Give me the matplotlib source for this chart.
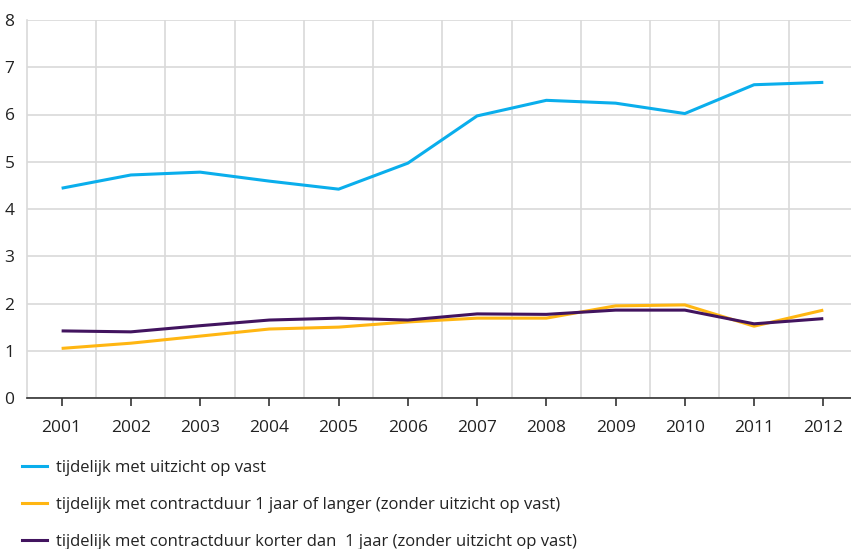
import matplotlib
matplotlib.use("Agg")
import matplotlib.pyplot as plt
from matplotlib.lines import Line2D

plt.rcParams['font.family'] = ['Open Sans', 'DejaVu Sans']

years = [2001, 2002, 2003, 2004, 2005, 2006, 2007, 2008, 2009, 2010, 2011, 2012]
uitzicht = [4.44, 4.72, 4.78, 4.59, 4.42, 4.97, 5.97, 6.30, 6.24, 6.02, 6.63, 6.68]
langer = [1.05, 1.16, 1.31, 1.46, 1.50, 1.61, 1.69, 1.69, 1.95, 1.97, 1.52, 1.86]
korter = [1.42, 1.40, 1.53, 1.65, 1.69, 1.65, 1.78, 1.77, 1.86, 1.86, 1.57, 1.68]
labels = ["tijdelijk met uitzicht op vast",
          "tijdelijk met contractduur 1 jaar of langer (zonder uitzicht op vast)",
          "tijdelijk met contractduur korter dan  1 jaar (zonder uitzicht op vast)"]
colors = ["#0AAEEC", "#FFB612", "#42145F"]

fig = plt.figure(figsize=(8.51, 5.49), dpi=100)
ax = fig.add_axes([27/851, 1-398/549, 1-27/851, (398-20)/549])

for vals, c, lab in zip([uitzicht, langer, korter], colors, labels):
    ax.plot(years, vals, color=c, lw=2.2, label=lab, solid_capstyle='butt', zorder=3)

ax.set_xlim(2000.5, 2012.4)
ax.set_ylim(0, 8)
ax.set_yticks(range(0, 9))
ax.set_xticks(years)
ax.set_xticks([y + 0.5 for y in years[:-1]], minor=True)
ax.grid(True, which='major', axis='y', color='#d9d9d9', lw=1.2)
ax.grid(True, which='minor', axis='x', color='#d9d9d9', lw=1.2)
ax.set_axisbelow(True)
for s in ['top', 'right']:
    ax.spines[s].set_visible(False)
ax.spines['left'].set_color('#d9d9d9')
ax.spines['left'].set_linewidth(1.2)
ax.spines['bottom'].set_color('#333333')
ax.spines['bottom'].set_linewidth(1.2)
ax.tick_params(axis='x', which='major', length=6, width=1.2, color='#333333', pad=10, labelsize=12.5, labelcolor='#222222')
ax.tick_params(axis='x', which='minor', length=0)
ax.tick_params(axis='y', length=0, pad=9, labelsize=12.5, labelcolor='#222222')

handles = [Line2D([], [], color=c, lw=2.2) for c in colors]
fig.legend(handles, labels, loc='upper left', bbox_to_anchor=(22/851, 1-460/549),
           frameon=False, fontsize=12, labelspacing=1.25, handlelength=1.5,
           handletextpad=0.55, labelcolor='#222222', borderaxespad=0, borderpad=0)

fig.savefig("out.png", dpi=100)
